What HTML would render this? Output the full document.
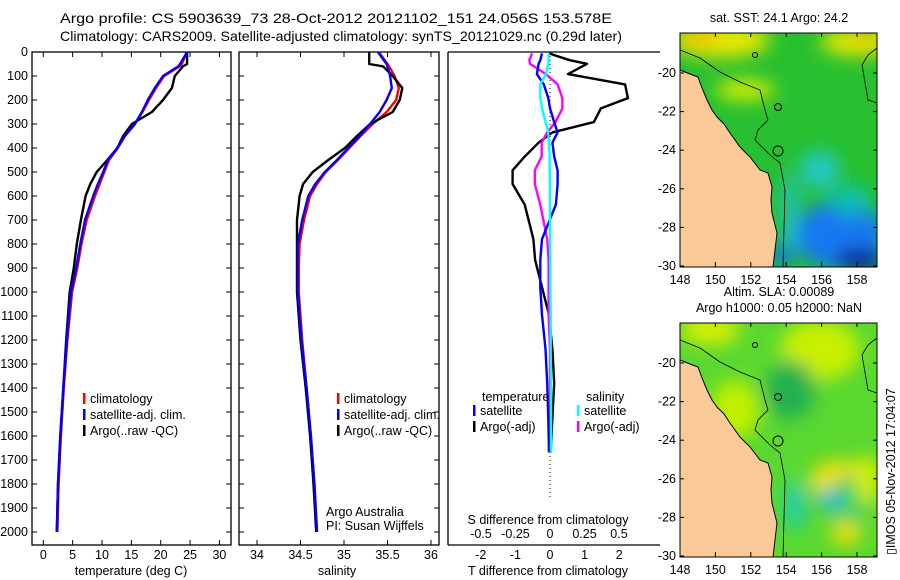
<!DOCTYPE html>
<html><head><meta charset="utf-8"><style>
html,body{margin:0;padding:0;background:#fff;}
svg{display:block;font-family:"Liberation Sans",sans-serif;}
text{font-size:12.5px;fill:#000;}
</style></head><body>
<svg id="fig" width="900" height="580" viewBox="0 0 900 580" xmlns="http://www.w3.org/2000/svg">
<defs>
<filter id="bl" x="-20%" y="-20%" width="140%" height="140%"><feGaussianBlur stdDeviation="9"/></filter>
<clipPath id="c1"><rect x="680" y="33" width="197" height="234"/></clipPath>
<clipPath id="c2"><rect x="680" y="323" width="197" height="234"/></clipPath>
</defs>
<text x="60" y="23" textLength="552" lengthAdjust="spacingAndGlyphs" style="font-size:14px">Argo profile: CS 5903639_73 28-Oct-2012 20121102_151 24.056S 153.578E</text>
<text x="60" y="41" textLength="562" lengthAdjust="spacingAndGlyphs" style="font-size:14px">Climatology: CARS2009. Satellite-adjusted climatology: synTS_20121029.nc (0.29d later)</text>
<g id="p1"></g>
<g id="p2"></g>
<g id="p3"></g>
<g id="m1"></g>
<g id="m2"></g>
<text x="0" y="0" transform="translate(895,555) rotate(-90)">▯IMOS 05-Nov-2012 17:04:07</text>
</svg>
<script>
// depth levels and profiles
const depths=[0,50,60,100,150,200,250,300,350,400,450,500,550,600,700,800,900,1000,1200,1400,1600,1800,2000];
const tempArgo=[24.5,24.5,23.8,22.4,21.9,20.4,18.5,15.1,13.6,12.6,10.9,9.1,8.0,7.2,6.4,5.7,5.2,4.5,3.9,3.4,2.9,2.5,2.3];
const tempSat=[24.5,23.3,23.0,20.4,19.0,17.8,16.8,15.6,13.9,12.6,11.0,10.2,9.3,8.5,7.1,6.3,5.6,4.7,4.0,3.4,2.9,2.5,2.3];
const tempClim=[24.5,23.6,23.2,20.6,19.2,18.0,16.9,15.6,13.9,12.7,11.2,10.4,9.6,8.8,7.4,6.5,5.8,4.9,4.1,3.5,3.0,2.6,2.4];
const salArgo=[35.29,35.29,35.45,35.56,35.67,35.64,35.56,35.30,35.15,35.01,34.82,34.64,34.53,34.49,34.46,34.46,34.46,34.46,34.50,34.56,34.61,34.65,34.68];
const salSat=[35.39,35.49,35.50,35.53,35.55,35.49,35.41,35.30,35.18,35.05,34.92,34.78,34.67,34.59,34.52,34.47,34.47,34.47,34.51,34.57,34.62,34.66,34.69];
const salClim=[35.40,35.50,35.52,35.58,35.63,35.60,35.49,35.33,35.19,35.06,34.93,34.79,34.69,34.61,34.54,34.49,34.48,34.48,34.52,34.57,34.62,34.66,34.69];
// difference profiles
const diffDepths=[6,34,49,92,135,192,235,292,335,378,436,493,550,636,780,866,980,1095,1238,1381,1525,1668];
const dTArgo=[-0.03,0.57,1.07,0.52,2.17,2.25,1.47,1.27,0.07,-0.33,-0.73,-1.08,-1.08,-0.73,-0.48,-0.43,-0.23,-0.03,0.07,0.12,0.07,0.02];
const dTSat=[-0.23,-0.28,-0.33,-0.38,-0.18,-0.05,0,0.12,0.22,0.07,0.12,0.22,0.22,0.17,-0.23,-0.28,-0.28,-0.23,-0.13,-0.08,-0.05,-0.03];
const dSArgo=[-0.13,-0.15,-0.145,-0.03,0.055,0.09,0.09,0.04,-0.02,-0.06,-0.06,-0.11,-0.11,-0.07,-0.02,-0.01,-0.01,-0.01,0,0,0,0.005];
const dSSat=[-0.01,-0.01,-0.012,-0.03,-0.07,-0.07,-0.057,-0.032,-0.012,-0.008,-0.002,-0.002,0,0,0,0.002,0.002,0.005,0.005,0.007,0.007,0.007];
const depthTicks=[0,100,200,300,400,500,600,700,800,900,1000,1100,1200,1300,1400,1500,1600,1700,1800,1900,2000];
const tTicks=[0,5,10,15,20,25,30];
const sTicks=[34,34.5,35,35.5,36];
const dTTicks=[-2,-1,0,1,2];
const dSTicks=[-0.5,-0.25,0,0.25,0.5];
const mapLon=[148,150,152,154,156,158];
const mapLat=[-20,-22,-24,-26,-28,-30];

const NS='http://www.w3.org/2000/svg';
function el(tag,attrs,parent,txt){const e=document.createElementNS(NS,tag);for(const k in attrs)e.setAttribute(k,attrs[k]);if(txt!==undefined)e.textContent=txt;parent.appendChild(e);return e;}
const yD=d=>52+d*0.24;
const TOP=52,BOT=545;

function frame(g,x0,x1,bot){
  const r=el('rect',{x:x0,y:TOP,width:x1-x0,height:bot-TOP,fill:'none',stroke:'#000','stroke-width':1.3},g);
  
  
}
function yTicks(g,x0,x1,labels){
  depthTicks.forEach(d=>{const y=yD(d);
    el('line',{x1:x0,x2:x0+5,y1:y,y2:y,stroke:'#000'},g);
    el('line',{x1:x1-5,x2:x1,y1:y,y2:y,stroke:'#000'},g);
    if(labels){const t=el('text',{x:x0-4,y:y+4,'text-anchor':'end'},g,String(d));
      
      }
  });
}
function xTicks(g,ticks,fx,bot,labY,top){
  ticks.forEach(v=>{const x=fx(v);
    el('line',{x1:x,x2:x,y1:bot,y2:bot-5,stroke:'#000'},g);
    if(top)el('line',{x1:x,x2:x,y1:TOP,y2:TOP+5,stroke:'#000'},g);
    const t=el('text',{x:x,y:labY,'text-anchor':'middle'},g,String(v));
    
    
  });
}
function line(g,ds,vals,fx,color,name,w){
  const pts=ds.map((d,i)=>fx(vals[i]).toFixed(1)+','+yD(d).toFixed(1)).join(' ');
  const p=el('polyline',{points:pts,fill:'none',stroke:color,'stroke-width':w||2.4,'stroke-linejoin':'round'},g);
  
  
}
function legend(g,x,y,items){
  items.forEach((it,i)=>{const yy=y+i*16;
    el('rect',{x:x,y:yy-10,width:2.5,height:11,fill:it[1]},g);
    const t=el('text',{x:x+7,y:yy},g,it[0]);
    
    
  });
}
// Panel 1 temperature
(function(){const g=document.getElementById('p1');const fx=v=>43.3+v*5.87;
  frame(g,32,231,BOT);yTicks(g,32,231,true);xTicks(g,tTicks,fx,BOT,559,true);
  line(g,depths,tempClim,fx,'#f00','temp-climatology-line');
  line(g,depths,tempArgo,fx,'#000','temp-argo-line');
  line(g,depths,tempSat,fx,'#00f','temp-satellite-line');
  legend(g,83,403,[['climatology','#f00'],['satellite-adj. clim.','#00f'],['Argo(..raw -QC)','#000']]);
  const t=el('text',{x:131,y:575,'text-anchor':'middle'},g,'temperature (deg C)');
  
})();
// Panel 2 salinity
(function(){const g=document.getElementById('p2');const fx=v=>257+(v-34)*87;
  frame(g,239,439,BOT);yTicks(g,239,439,false);xTicks(g,sTicks,fx,BOT,559,true);
  line(g,depths,salClim,fx,'#f00','sal-climatology-line');
  line(g,depths,salArgo,fx,'#000','sal-argo-line');
  line(g,depths,salSat,fx,'#00f','sal-satellite-line');
  legend(g,337,403,[['climatology','#f00'],['satellite-adj. clim.','#00f'],['Argo(..raw -QC)','#000']]);
  const a=el('text',{x:326,y:516},g,'Argo Australia');
  const b=el('text',{x:326,y:530},g,'PI: Susan Wijffels');
  const t=el('text',{x:337,y:575,'text-anchor':'middle'},g,'salinity');
  
})();
// Panel 3 differences
(function(){const g=document.getElementById('p3');const fT=v=>550+v*34.6;const fS=v=>550+v*138;
  el('line',{x1:448,x2:448,y1:TOP,y2:BOT,stroke:'#000','stroke-width':1.3},g);
  el('line',{x1:448,x2:660,y1:TOP,y2:TOP,stroke:'#000','stroke-width':1.3},g);
  el('line',{x1:448,x2:660,y1:BOT,y2:BOT,stroke:'#000','stroke-width':1.3},g);
  el('line',{x1:550,x2:550,y1:TOP,y2:500,stroke:'#000','stroke-dasharray':'1,3'},g);
  dTTicks.forEach(v=>{const t=el('text',{x:fT(v),y:559,'text-anchor':'middle'},g,String(v));});
  dSTicks.forEach(v=>{const t=el('text',{x:fS(v),y:538,'text-anchor':'middle'},g,String(v));});
  line(g,diffDepths,dTArgo,fT,'#000','t-diff-argo-line');
  line(g,diffDepths,dSArgo,fS,'#f0f','s-diff-argo-line');
  line(g,diffDepths,dTSat,fT,'#00f','t-diff-satellite-line');
  line(g,diffDepths,dSSat,fS,'#0ff','s-diff-satellite-line');
  const h1=el('text',{x:482,y:401},g,'temperature');
  const h2=el('text',{x:586,y:401},g,'salinity');
  legend(g,473,415,[['satellite','#00f'],['Argo(-adj)','#000']]);
  legend(g,577,415,[['satellite','#0ff'],['Argo(-adj)','#f0f']]);
  const s=el('text',{x:548,y:524,'text-anchor':'middle'},g,'S difference from climatology');
  const t=el('text',{x:548,y:575,'text-anchor':'middle'},g,'T difference from climatology');
})();
// Maps
const coast=[[680,70],[690,74],[698,77],[702,88],[707,100],[712,110],[717,117],[724,124],[730,133],[740,147],[750,157],[760,170],[768,173],[772,187],[771,200],[772,213],[777,233],[775,250],[773,267],[680,267]];
const iso=[[680,50],[700,58],[720,72],[740,82],[760,90],[765,110],[768,120],[758,130],[755,140],[770,155],[780,163],[785,190],[783,267]];
function map(id,oy,blobs,base,titles){
  const g=document.getElementById(id);const dy=oy-33;
  const cg=el('g',{'clip-path':'url(#'+(id==='m1'?'c1':'c2')+')'},g);
  el('rect',{x:680,y:oy,width:197,height:234,fill:base},cg);
  const bg=el('g',{filter:'url(#bl)'},cg);
  blobs.forEach(b=>el('ellipse',{cx:b[0],cy:b[1]+dy,rx:b[2],ry:b[3],fill:b[4]},bg));
  const lp=el('polygon',{points:coast.map(p=>p[0]+','+(p[1]+dy)).join(' '),fill:'#fac998',stroke:'#000','stroke-width':1},cg);
  
  el('polyline',{points:iso.map(p=>p[0]+','+(p[1]+dy)).join(' '),fill:'none',stroke:'#000','stroke-width':0.8},cg);
  el('circle',{cx:778,cy:151+dy,r:5,fill:'none',stroke:'#000'},cg);
  el('circle',{cx:778,cy:107+dy,r:3.5,fill:'none',stroke:'#000'},cg);
  el('circle',{cx:755,cy:55+dy,r:2.5,fill:'none',stroke:'#000'},cg);
  el('polyline',{points:`877,${48+dy} 868,${55+dy} 862,${65+dy} 868,${100+dy} 877,${103+dy}`,fill:'none',stroke:'#000','stroke-width':0.8},cg);
  el('rect',{x:680,y:oy,width:197,height:234,fill:'none',stroke:'#000'},g);
  const fx=v=>680+(v-148)*17.7, fy=v=>73+dy+(-20-v)*19.3;
  mapLon.forEach(v=>{const x=fx(v);el('line',{x1:x,x2:x,y1:oy+234,y2:oy+229,stroke:'#000'},g);el('line',{x1:x,x2:x,y1:oy,y2:oy+4,stroke:'#000'},g);
    const t=el('text',{x:x,y:oy+251,'text-anchor':'middle'},g,String(v));});
  mapLat.forEach(v=>{const y=fy(v);el('line',{x1:680,x2:684,y1:y,y2:y,stroke:'#000'},g);el('line',{x1:877,x2:873,y1:y,y2:y,stroke:'#000'},g);
    const t=el('text',{x:676,y:y+4,'text-anchor':'end'},g,String(v));});
  titles.forEach((s,i)=>{const t=el('text',{x:779,y:oy-11-(titles.length-1-i)*16,'text-anchor':'middle'},g,s);});
}
map('m1',33,[[720,40,50,18,'#e8e800'],[700,36,20,8,'#f5b800'],[860,42,40,14,'#e8e800'],[865,38,12,6,'#f5b800'],[745,90,30,10,'#d8f000'],[820,170,20,20,'#20c8c0'],[840,235,45,35,'#1878f0'],[860,260,25,12,'#0828a0'],[790,215,8,45,'#20c0c8'],[780,255,15,10,'#1070e0'],[850,200,20,15,'#10c0b0']],'#28c030',['sat. SST: 24.1  Argo: 24.2']);
map('m2',323,[[710,40,30,15,'#d8f000'],[820,60,40,30,'#c8f000'],[735,120,25,30,'#c0f000'],[840,190,30,20,'#f0e000'],[850,210,20,25,'#40d060'],[830,210,12,10,'#10b8e0'],[795,215,8,25,'#10c8d8'],[846,243,15,12,'#f0e000'],[868,190,12,25,'#d8f000'],[790,100,25,30,'#20b050']],'#5ad830',['Altim. SLA: 0.00089','Argo h1000: 0.05 h2000: NaN']);
</script>
</body></html>
